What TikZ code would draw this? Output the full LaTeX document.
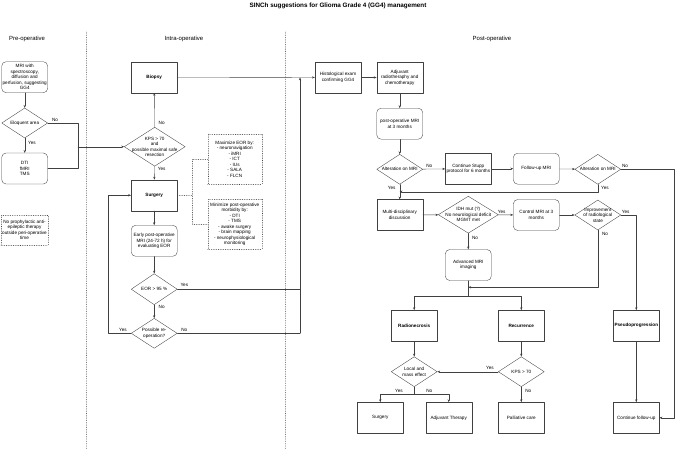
\documentclass[tikz,border=0pt]{standalone}
\usepackage{fontspec}
\setmainfont{Liberation Sans}
\usetikzlibrary{arrows.meta,shapes.geometric}
\tikzset{
  every picture/.style={font=\fontsize{6.6}{7.8}\selectfont, line join=round, line cap=round, >={Stealth[length=4pt,width=3.2pt]}},
  link/.style={draw=black!75, line width=0.5pt},
  box/.style={link, rectangle, minimum width=2.3cm, minimum height=1.55cm, align=center, inner sep=0.5pt},
  rbox/.style={box, rounded corners=0.22cm},
  decision/.style={link, diamond, inner sep=0pt, minimum width=2.3cm, minimum height=1.5cm},
  note/.style={box, dotted},
  bold/.style={font=\fontsize{6.6}{7.8}\selectfont\bfseries},
  lbl/.style={inner sep=0.5pt},
  phase/.style={font=\fontsize{8.5}{10}\selectfont},
  sep/.style={draw=black!60, line width=0.5pt, dotted},
}

\begin{document}
\begin{tikzpicture}[x=0.05cm, y=-0.05cm]
\useasboundingbox (0,0) rectangle (676,450);
\node[font=\fontsize{9}{11}\selectfont\bfseries] (title) at (338,6) {SINCh suggestions for Glioma Grade 4 (GG4) management};
\node[phase] (pre) at (27,39) {Pre-operative};
\node[phase] (intra) at (184,39) {Intra-operative};
\node[phase] (post) at (492,39) {Post-operative};
\coordinate (sepa) at (86,32);
\coordinate (sepb) at (86,450);
\coordinate (sepc) at (285,32);
\coordinate (sepd) at (285,450);
\draw[sep] (sepa) -- (sepb);
\draw[sep] (sepc) -- (sepd);

\node[rbox] (mri) at (24.7,77.2) {MRI with\\spectroscopy,\\diffusion and\\perfusion, suggesting\\GG4};
\node[decision, label=center:{Eloquent area}] (eloq) at (24.7,123) {};
\node[rbox] (dti) at (24.7,168.5) {DTI\\fMRI\\TMS};
\node[note, minimum width=2.35cm, minimum height=1.5cm] (noaed) at (24.5,230) {No prophylactic anti-\\epileptic therapy\\outside peri-operative\\time};

\node[box, bold] (biopsy) at (154.2,77.2) {Biopsy};
\node[decision, minimum width=3.05cm, minimum height=1.95cm, label={[align=center]center:{KPS > 70\\and\\possible maximal safe\\resection}}] (kps) at (154.7,146.7) {};
\node[box, bold] (surgery) at (154.2,195.3) {Surgery};
\node[rbox] (early) at (154.2,240.8) {Early post-operative\\MRI (24-72 h) for\\evaluating EOR};
\node[decision, minimum height=1.55cm, label=center:{EOR > 95 \%}] (eor) at (154.2,289.2) {};
\node[decision, label={[align=center]center:{Possible re-\\operation?}}] (reop) at (154.2,333.3) {};
\node[note, minimum width=2.7cm, minimum height=2.5cm] (maxeor) at (234.7,159) {Maximize EOR by:\\- neuronavigation\\- iMRI\\- ICT\\- IUs\\- SALA\\- FLCN};
\node[note, minimum width=2.7cm, minimum height=2.5cm] (minmorb) at (234.7,224.3) {Minimize post-operative\\morbidity by:\\- DTI\\- TMS\\- awake surgery\\- brain mapping\\- neurophysiological\\monitoring};

\node[box] (histo) at (338,77.5) {Histological exam\\confirming GG4};
\node[box] (adjuv) at (399.7,77.5) {Adjuvant\\radiotheraphy and\\chemotherapy};
\node[rbox] (pomri) at (399.7,123.7) {post-operative MRI\\at 3 months};
\node[decision, label=center:{Alteration on MRI}] (alt1) at (399.7,169.3) {};
\node[box] (stupp) at (468.3,168.7) {Continue Stupp\\protocol for 6 months};
\node[rbox] (fumri) at (536.3,168.7) {Follow-up MRI};
\node[decision, label=center:{Alteration on MRI}] (alt2) at (597.8,169.3) {};
\node[box] (multi) at (399.7,215) {Multi-disciplinary\\discussion};
\node[decision, minimum width=3cm, minimum height=1.85cm, label={[align=center]center:{IDH mut (?)\\No neurological deficit\\MGMT met}}] (idh) at (468.3,214.7) {};
\node[rbox] (ctrl) at (536.3,215) {Control MRI at 3\\months};
\node[decision, label={[align=center]center:{Improvement\\of radiological\\state}}] (improv) at (597.8,215) {};
\node[rbox] (adv) at (468.3,265) {Advanced MRI\\imaging};
\node[box, bold] (radnec) at (414.2,325.8) {Radionecrosis};
\node[box, bold] (recur) at (521.3,325.8) {Recurrence};
\node[box, bold] (pseudo) at (636.3,325.8) {Pseudoprogression};
\node[decision, label={[align=center]center:{Local and\\mass effect}}] (local) at (414.2,371.7) {};
\node[decision, label=center:{KPS > 70}] (kpsb) at (521.3,371.7) {};
\node[box] (surgb) at (380.3,417.8) {Surgery};
\node[box] (adjth) at (448.7,417.8) {Adjuvant Therapy};
\node[box] (pall) at (521.3,417.8) {Palliative care};
\node[box] (contfu) at (636.3,417.8) {Continue follow-up};

\coordinate (jeloq) at (78,146.7);
\draw[link] (eloq.east) -| (jeloq);
\draw[link] (dti.east) -| (jeloq);
\draw[link,->] (jeloq) -- (kps.west);
\draw[link,->] (mri) -- (eloq);
\draw[link,->] (eloq) -- (dti);
\draw[link,->] (kps) -- (biopsy);
\draw[link,->] (kps) -- (surgery);
\draw[link,->] (surgery) -- (early);
\draw[link,->] (early) -- (eor);
\draw[link,->] (eor) -- (reop);
\coordinate (jreop) at (108,333.3);
\draw[link,->] (reop.west) -- (jreop) |- (surgery.west);
\coordinate (jeor) at (300,289.2);
\coordinate (jno) at (300,333.3);
\coordinate (jhisto) at (300,77.5);
\draw[link] (eor.east) -- (jeor);
\draw[link] (reop.east) -- (jno);
\draw[link,->] (jno) -- (jhisto);
\draw[link,->] (biopsy) -- (histo);
\coordinate (jnote) at (192.3,195.3);
\draw[link,dotted] (surgery.east) -- (jnote);
\draw[link,dotted] (maxeor.west) -| (jnote) |- (minmorb.west);

\draw[link,->] (histo) -- (adjuv);
\draw[link,->] (adjuv) -- (pomri);
\draw[link,->] (pomri) -- (alt1);
\draw[link,->] (alt1) -- (stupp);
\draw[link,->] (alt1) -- (multi);
\draw[link,->] (stupp) -- (fumri);
\draw[link,->] (fumri) -- (alt2);
\coordinate (jalt) at (399.7,191.7);
\draw[link,->] (alt2.south) |- (jalt);
\coordinate (jright) at (674,169.3);
\draw[link,->] (alt2.east) -- (jright) |- (contfu.east);
\draw[link,->] (multi) -- (idh);
\draw[link,->] (idh) -- (ctrl);
\draw[link,->] (idh) -- (adv);
\draw[link,->] (ctrl) -- (improv);
\draw[link,->] (improv.east) -| (pseudo.north);
\coordinate (jadv) at (468.3,287.3);
\draw[link,->] (improv.south) |- (jadv);
\coordinate (jsplit) at (468.3,296);
\draw[link] (adv.south) -- (jsplit);
\draw[link,->] (jsplit) -| (radnec.north);
\draw[link,->] (jsplit) -| (recur.north);
\draw[link,->] (radnec) -- (local);
\draw[link,->] (recur) -- (kpsb);
\draw[link,->] (kpsb) -- (local);
\draw[link,->] (kpsb) -- (pall);
\coordinate (jlocal) at (414.2,394);
\draw[link] (local.south) -- (jlocal);
\draw[link,->] (jlocal) -| (surgb.north);
\draw[link,->] (jlocal) -| (adjth.north);
\draw[link,->] (pseudo) -- (contfu);

\node[lbl] (eloqno) at (55,120) {No};
\node[lbl] (eloqyes) at (32,143) {Yes};
\node[lbl] (kpsno) at (161.7,123.3) {No};
\node[lbl] (kpsyes) at (161.7,169.3) {Yes};
\node[lbl] (eoryes) at (184.3,284.5) {Yes};
\node[lbl] (eorno) at (161.7,307.3) {No};
\node[lbl] (reopyes) at (123,330) {Yes};
\node[lbl] (reopno) at (184.3,330) {No};
\node[lbl] (altano) at (429.3,165.7) {No};
\node[lbl] (altayes) at (391.7,188.3) {Yes};
\node[lbl] (altbno) at (625,165.7) {No};
\node[lbl] (altbyes) at (605,188.3) {Yes};
\node[lbl] (idhyes) at (501.7,211.7) {Yes};
\node[lbl] (idhno) at (475,238.3) {No};
\node[lbl] (impyes) at (625.7,211.7) {Yes};
\node[lbl] (impno) at (605,234) {No};
\node[lbl] (localyes) at (399,391) {Yes};
\node[lbl] (localno) at (429.3,391) {No};
\node[lbl] (kpsbyes) at (490,367.7) {Yes};
\node[lbl] (kpsbno) at (528.3,391) {No};
\end{tikzpicture}
\end{document}
